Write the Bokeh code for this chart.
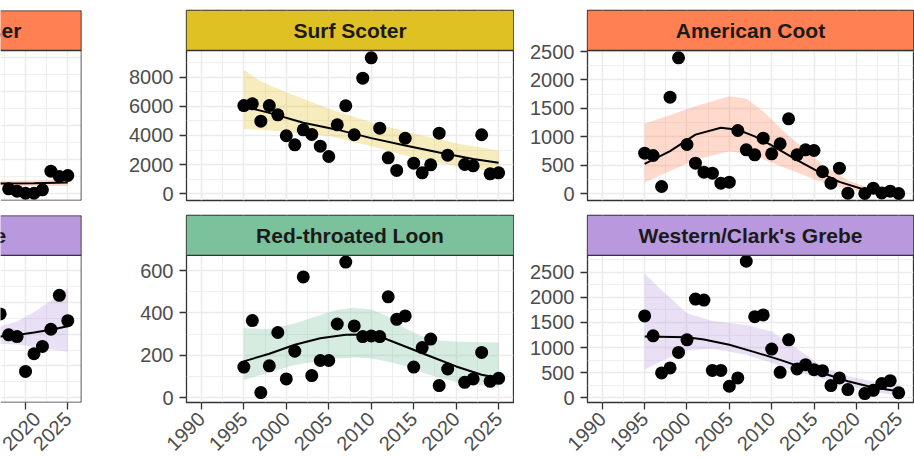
import math
from bokeh.plotting import figure
from bokeh.layouts import row, column
from bokeh.models import Range1d, FixedTicker, Span
from bokeh.core.properties import value
from bokeh.embed import file_html
from bokeh.resources import INLINE

# ---------------- data ----------------
YEARS = [1995, 1996, 1997, 1998, 1999, 2000, 2001, 2002, 2003, 2004,
         2005, 2006, 2007, 2008, 2009, 2010, 2011, 2012, 2013, 2014,
         2015, 2016, 2017, 2018, 2019, 2021, 2022, 2023, 2024, 2025]

surf_counts = [6050, 6170, 4980, 6050, 5420, 3980, 3360, 4390, 4070, 3270,
               2560, 4730, 6040, 4050, 7930, 9330, 4500, 2470, 1600, 3810,
               2100, 1440, 1990, 4160, 2650, 2010, 1920, 4050, 1370, 1440]
surf_fit_years = [1995, 1998, 2002, 2006, 2010, 2014, 2018, 2022, 2025]
surf_fit = [5990, 5550, 4870, 4400, 3820, 3310, 2840, 2380, 2130]
surf_band_years = [1995, 1997, 2000, 2005, 2010, 2015, 2020, 2025]
surf_band_hi = [8500, 7700, 6970, 5830, 4910, 4120, 3470, 2970]
surf_band_lo = [4460, 4400, 4250, 3960, 3270, 2470, 1900, 1440]

coot_counts = [713, 673, 128, 1698, 2390, 866, 538, 380, 362, 186,
               204, 1112, 773, 685, 977, 703, 879, 1318, 685, 773,
               761, 387, 186, 450, 10, 5, 98, 15, 46, 5]
coot_fit_years = [1995, 1998, 2001, 2004, 2006, 2008, 2010, 2013, 2016, 2018, 2021, 2025]
coot_fit = [527, 750, 1040, 1160, 1125, 1010, 850, 590, 350, 210, 70, 12]
coot_band_years = [1995, 2001, 2005, 2007, 2009, 2012, 2014, 2016, 2019, 2021, 2025]
coot_band_hi = [1230, 1540, 1715, 1670, 1450, 1017, 773, 510, 240, 130, 30]
coot_band_lo = [204, 600, 749, 700, 608, 433, 313, 204, 80, 35, 0]

loon_counts = [145, 364, 25, 151, 308, 89, 220, 570, 105, 176,
               176, 348, 640, 339, 289, 292, 289, 476, 370, 386,
               145, 237, 277, 58, 136, 73, 89, 214, 78, 92]
loon_fit_years = [1995, 1998, 2001, 2004, 2007, 2009, 2011, 2014, 2017, 2020, 2023, 2025]
loon_fit = [172, 208, 250, 281, 297, 298, 289, 242, 195, 148, 109, 94]
loon_band_years = [1995, 1998, 2001, 2004, 2006, 2008, 2010, 2012, 2014, 2016, 2018, 2020, 2023, 2025]
loon_band_hi = [328, 325, 350, 390, 415, 425, 417, 383, 328, 289, 270, 265, 262, 261]
loon_band_lo = [84, 120, 155, 175, 185, 190, 185, 170, 150, 120, 95, 75, 58, 48]

grebe_counts = [1629, 1233, 495, 594, 903, 1154, 1965, 1945, 546, 546,
                230, 396, 2717, 1615, 1649, 970, 507, 1154, 574, 659,
                560, 540, 243, 396, 164, 85, 150, 283, 342, 99]
grebe_fit_years = [1995, 2000, 2002, 2005, 2008, 2011, 2013, 2016, 2019, 2022, 2025]
grebe_fit = [1220, 1207, 1160, 1055, 910, 755, 640, 495, 330, 205, 131]
grebe_band_years = [1995, 1997, 2000, 2003, 2007, 2010, 2013, 2016, 2019, 2022, 2025]
grebe_band_hi = [2474, 2143, 1682, 1530, 1451, 1318, 980, 625, 430, 325, 263]
grebe_band_lo = [560, 735, 942, 975, 857, 693, 520, 376, 230, 128, 32]

# partially visible panels on the left
merg_years = [2018, 2019, 2020, 2021, 2022, 2023, 2024, 2025]
merg_counts = [72, 37, 7, 7, 57, 331, 253, 268]
merg_fit_years = [2017, 2021, 2025]
merg_fit = [150, 155, 165]
merg_band_hi = [190, 195, 215]
merg_band_lo = [110, 112, 115]

pbgr_years = [2017, 2018, 2019, 2020, 2021, 2022, 2023, 2024, 2025]
pbgr_counts = [527, 396, 385, 166, 277, 323, 431, 644, 485]
pbgr_fit_years = [2017, 2019, 2021, 2023, 2025]
pbgr_fit = [385, 395, 410, 428, 450]
pbgr_band_hi = [450, 480, 540, 610, 690]
pbgr_band_lo = [340, 335, 320, 305, 290]

X_TICKS = [1990, 1995, 2000, 2005, 2010, 2015, 2020, 2025]
X_MINOR = [1992.5, 1997.5, 2002.5, 2007.5, 2012.5, 2017.5, 2022.5]

# ---------------- style ----------------
FONT = "Liberation Sans"
BORDER = "#333333"
GRID = "#EBEBEB"
ORANGE = "#FF8052"
YELLOW = "#E0C123"
GREEN = "#7BC19B"
PURPLE = "#B998DD"

FULL_X = (1988.25, 2026.75)
LEFT_X = (2017.04, 2026.62)


def style_axis(ax, standoff):
    ax.axis_line_color = None
    ax.major_tick_line_color = BORDER
    ax.major_tick_line_width = 1.3
    ax.major_tick_out = 7
    ax.major_tick_in = 0
    ax.minor_tick_line_color = None
    ax.major_label_text_font = FONT
    ax.major_label_text_font_size = "20px"
    ax.major_label_text_color = "#4D4D4D"
    ax.major_label_standoff = standoff


def make_cell(width, height, mb, panel_h, strip_px, xr, yr, yticks, yminor,
              show_x, show_y, name, color,
              pts_x, pts_y, fit_x, fit_y, band_x, band_lo, band_hi, partial=False):
    # the frame holds the strip (top strip_px pixels) and the panel below it
    per_px = (yr[1] - yr[0]) / panel_h
    strip_top = yr[1] + strip_px * per_px
    p = figure(width=width, height=height, x_range=Range1d(*xr),
               y_range=Range1d(yr[0], strip_top),
               output_backend="svg", toolbar_location=None,
               x_axis_location="below" if show_x else None,
               y_axis_location="left" if show_y else None,
               min_border_left=mb[0], min_border_right=mb[1],
               min_border_top=mb[2], min_border_bottom=mb[3])
    p.background_fill_color = "white"
    p.border_fill_color = "white"
    p.outline_line_color = None if partial else BORDER
    p.outline_line_width = 1.3
    xt = FixedTicker(ticks=X_TICKS, minor_ticks=X_MINOR)
    yt = FixedTicker(ticks=yticks, minor_ticks=yminor)
    p.xgrid.ticker = xt
    p.ygrid.ticker = yt
    for g in p.grid:
        g.grid_line_color = GRID
        g.grid_line_width = 1.5
        g.minor_grid_line_color = GRID
        g.minor_grid_line_width = 0.8
    if show_x:
        style_axis(p.xaxis[0], 6)
        p.xaxis.ticker = xt
        p.xaxis.major_label_orientation = math.pi / 4
    if show_y:
        style_axis(p.yaxis[0], 6)
        p.yaxis.ticker = yt

    p.varea(x=band_x, y1=band_lo, y2=band_hi, fill_color=color, fill_alpha=0.3)
    p.line(fit_x, fit_y, line_color="black", line_width=2)
    p.scatter(pts_x, pts_y, size=13, fill_color="black", line_color=None)

    # facet strip
    p.quad(left=[FULL_X[0]], right=[FULL_X[1]], bottom=[yr[1]], top=[strip_top],
           fill_color=color, line_color=None)
    p.text(x=[(FULL_X[0] + FULL_X[1]) / 2], y=[(yr[1] + strip_top) / 2], text=[name],
           text_align="center", text_baseline="middle",
           text_font=value(FONT), text_font_style="bold",
           text_font_size="21px", text_color="#1A1A1A")
    p.add_layout(Span(location=yr[1], dimension="width", line_color=BORDER, line_width=1.3))
    if partial:
        p.add_layout(Span(location=xr[1], dimension="height", line_color=BORDER, line_width=1.6))
        p.add_layout(Span(location=yr[0], dimension="width", line_color=BORDER, line_width=1.6))
        p.add_layout(Span(location=strip_top, dimension="width", line_color=BORDER, line_width=1.6))
    return p


# column geometry
WL, WM, WR = 82, 432, 400
BL, BM, BR = (0, 1), (104, 1), (73, 1)
TOP_H, BOT_H = 214, 245

p_tl = make_cell(WL, TOP_H, (*BL, 10, 14), 150, 40, LEFT_X, (-100, 2106),
                 [0, 500, 1000, 1500, 2000], [250, 750, 1250, 1750], False, False,
                 "Common Merganser", ORANGE, merg_years, merg_counts,
                 merg_fit_years, merg_fit, merg_fit_years, merg_band_lo, merg_band_hi,
                 partial=True)
p_tm = make_cell(WM, TOP_H, (*BM, 10, 14), 150, 40, FULL_X, (-460, 9830),
                 [0, 2000, 4000, 6000, 8000], [1000, 3000, 5000, 7000, 9000], False, True,
                 "Surf Scoter", YELLOW, YEARS, surf_counts,
                 surf_fit_years, surf_fit, surf_band_years, surf_band_lo, surf_band_hi)
p_tr = make_cell(WR, TOP_H, (*BR, 10, 14), 150, 40, FULL_X, (-118, 2518),
                 [0, 500, 1000, 1500, 2000, 2500], [250, 750, 1250, 1750, 2250], False, True,
                 "American Coot", ORANGE, YEARS, coot_counts,
                 coot_fit_years, coot_fit, coot_band_years, coot_band_lo, coot_band_hi)

p_bl = make_cell(WL, BOT_H, (*BL, 1, 56), 148, 40, LEFT_X, (-29.4, 895.6),
                 [0, 200, 400, 600, 800], [100, 300, 500, 700], True, False,
                 "Pied-billed Grebe", PURPLE, pbgr_years, pbgr_counts,
                 pbgr_fit_years, pbgr_fit, pbgr_fit_years, pbgr_band_lo, pbgr_band_hi,
                 partial=True)
p_bm = make_cell(WM, BOT_H, (*BM, 1, 56), 148, 40, FULL_X, (-22, 672),
                 [0, 200, 400, 600], [100, 300, 500], True, True,
                 "Red-throated Loon", GREEN, YEARS, loon_counts,
                 loon_fit_years, loon_fit, loon_band_years, loon_band_lo, loon_band_hi)
p_br = make_cell(WR, BOT_H, (*BR, 1, 56), 148, 40, FULL_X, (-93, 2836),
                 [0, 500, 1000, 1500, 2000, 2500], [250, 750, 1250, 1750, 2250, 2750], True, True,
                 "Western/Clark's Grebe", PURPLE, YEARS, grebe_counts,
                 grebe_fit_years, grebe_fit, grebe_band_years, grebe_band_lo, grebe_band_hi)

layout = column(row(p_tl, p_tm, p_tr), row(p_bl, p_bm, p_br))

open("out.html", "w").write(file_html(layout, INLINE))
